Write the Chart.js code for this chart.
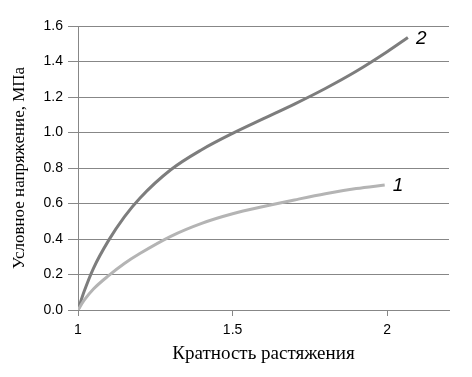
<!DOCTYPE html>
<html>
<head>
<meta charset="utf-8">
<script src="https://cdn.jsdelivr.net/npm/chart.js@4"></script>
<style>
  html, body { margin: 0; padding: 0; background: #fff; }
  #wrap { width: 472px; height: 377px; position: relative; }
</style>
</head>
<body>
<div id="wrap"><canvas id="myChart"></canvas></div>
<script>
// кривая 1 (светлая)
const x1 = [1, 1.02, 1.05, 1.1, 1.15, 1.2, 1.3, 1.4, 1.5, 1.6, 1.7, 1.8, 1.9, 1.992];
const y1 = [0, 0.055, 0.118, 0.195, 0.262, 0.318, 0.415, 0.488, 0.542, 0.583, 0.62, 0.655, 0.684, 0.704];
// кривая 2 (тёмная)
const x2 = [1, 1.02, 1.05, 1.1, 1.15, 1.2, 1.3, 1.4, 1.5, 1.6, 1.7, 1.8, 1.9, 2.0, 2.067];
const y2 = [0, 0.105, 0.235, 0.395, 0.525, 0.63, 0.79, 0.903, 0.995, 1.078, 1.16, 1.248, 1.345, 1.455, 1.535];
const xTicks = [1, 1.5, 2];
const curveNames = ['1', '2'];

function pts(xs, ys) {
  return xs.map((v, i) => ({ x: v, y: ys[i] }));
}

// подписи номеров кривых у концов линий
const endLabels = {
  id: 'endLabels',
  afterDatasetsDraw(chart) {
    const ctx = chart.ctx;
    ctx.save();
    ctx.font = 'italic 19px "Liberation Sans"';
    ctx.fillStyle = '#000';
    ctx.textAlign = 'left';
    ctx.textBaseline = 'middle';
    chart.data.datasets.forEach((ds, i) => {
      const meta = chart.getDatasetMeta(i);
      const last = meta.data[meta.data.length - 1];
      ctx.fillText(curveNames[i], last.x + 8, last.y + 1);
    });
    ctx.restore();
  }
};

const config = {
  type: 'scatter',
  data: {
    datasets: [{
      label: '1',
      data: pts(x1, y1),
      borderColor: '#b4b4b4',
      borderWidth: 3,
      showLine: true,
      pointRadius: 0,
      cubicInterpolationMode: 'monotone'
    }, {
      label: '2',
      data: pts(x2, y2),
      borderColor: '#7d7d7d',
      borderWidth: 3,
      showLine: true,
      pointRadius: 0,
      cubicInterpolationMode: 'monotone'
    }]
  },
  options: {
    responsive: true,
    maintainAspectRatio: false,
    animation: false,
    layout: { padding: { top: 26, right: 23, left: 0, bottom: 0 } },
    plugins: {
      legend: { display: false },
      tooltip: { enabled: false }
    },
    scales: {
      x: {
        type: 'linear',
        min: 1,
        max: 2.2,
        afterBuildTicks: (s) => { s.ticks = xTicks.map(v => ({ value: v })); },
        afterFit: (s) => { s.height = 67; },
        border: { display: true, color: '#878787', width: 1 },
        grid: { drawOnChartArea: false, tickLength: 6, color: '#878787' },
        ticks: {
          color: '#000',
          padding: 6,
          font: { family: '"Liberation Sans"', size: 14 },
          callback: (v) => String(v)
        },
        title: {
          display: true,
          text: 'Кратность растяжения',
          color: '#000',
          padding: { top: 0, bottom: 12 },
          font: { family: '"Liberation Serif"', size: 19 }
        }
      },
      y: {
        min: 0,
        max: 1.6,
        ticks: {
          stepSize: 0.2,
          color: '#000',
          padding: 5,
          font: { family: '"Liberation Sans"', size: 14 },
          callback: (v) => v.toFixed(1)
        },
        afterFit: (s) => { s.width = 78; },
        border: { display: true, color: '#878787', width: 1 },
        grid: { tickLength: 10, color: '#878787' },
        title: {
          display: true,
          text: 'Условное напряжение, МПа',
          color: '#000',
          padding: { top: 9, bottom: 0 },
          font: { family: '"Liberation Serif"', size: 17 }
        }
      }
    }
  },
  plugins: [endLabels]
};

const ctx = document.getElementById('myChart').getContext('2d');
const grafica = new Chart(ctx, config);
</script>
</body>
</html>
